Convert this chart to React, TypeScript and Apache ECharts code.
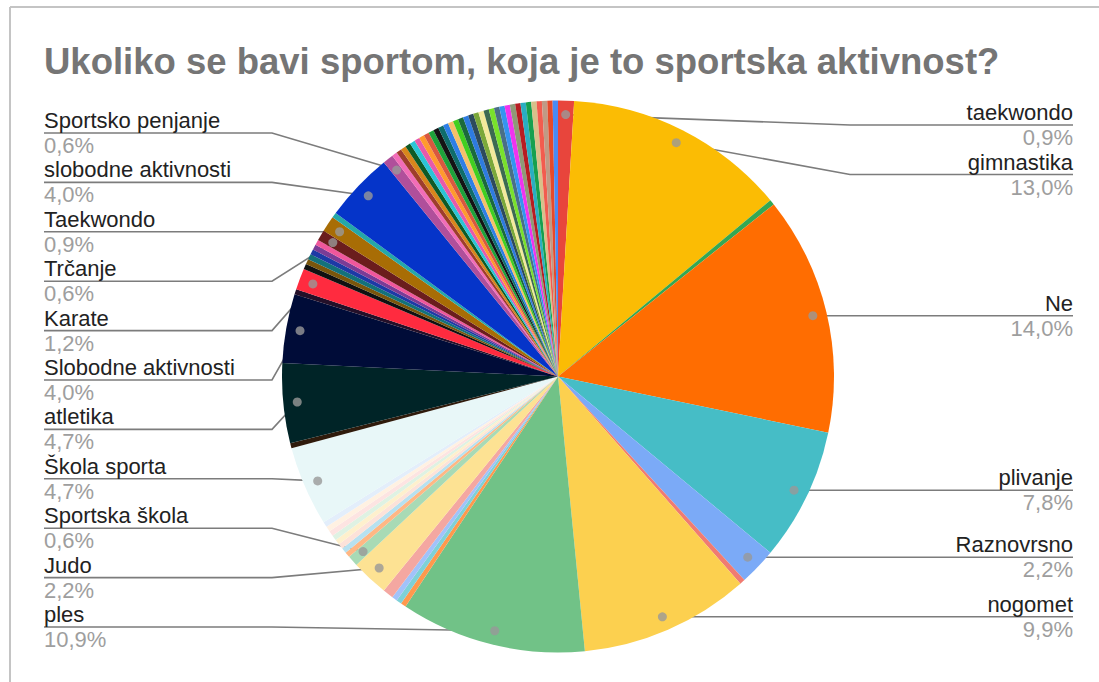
import React, { useEffect, useRef } from 'react';
import * as echarts from 'echarts';

const chartTitle = 'Ukoliko se bavi sportom, koja je to sportska aktivnost?';

// Slices in clockwise order from 12 o'clock. Empty name = unlabeled slice.
const sliceNames: string[] = [
  'taekwondo', 'gimnastika', '', 'Ne', 'plivanje', 'Raznovrsno', '', 'nogomet', 'ples',
  '', '', '', '', 'Judo', 'Sportska škola',
  '', '', '', '', '', '', '', '',
  'Škola sporta', '', 'atletika', 'Slobodne aktivnosti', '', 'Karate',
  '', '', '', '', '', '',
  'Trčanje', 'Taekwondo', '', 'slobodne aktivnosti', 'Sportsko penjanje',
  '', '', '', '', '', '', '', '', '', '', '',
  '', '', '', '', '', '', '', '', '', '', '',
  '', '', '', '', '', '', '', '', '', '', '',
];

const sliceCounts: number[] = [
  3, 42, 1, 45, 25, 7, 1, 32, 35,
  1, 1, 1, 2, 7, 2,
  1, 1, 1, 1, 1, 1, 1, 1,
  15, 1, 15, 13, 1, 4,
  1, 1, 1, 1, 1, 1,
  2, 3, 1, 13, 2,
  1, 1, 1, 1, 1, 1, 1, 1, 1, 1, 1,
  1, 1, 1, 1, 1, 1, 1, 1, 1, 1, 1,
  1, 1, 1, 1, 1, 1, 1, 1, 1, 1, 1,
];

const sliceColors: string[] = [
  '#e8453c', '#fbbc04', '#34a853', '#ff6d01', '#46bdc6', '#7baaf7', '#f07b72', '#fcd04f', '#71c287',
  '#ff994d', '#7ed1d7', '#a1c2fa', '#f4a7a1', '#fde293', '#a8dab5',
  '#ffb784', '#b7e1f0', '#fce2d9', '#fef0cd', '#dff2e3', '#fde4e2', '#fff1e2', '#e3eefb',
  '#e8f7f8', '#2f1b0c', '#002427', '#000c38', '#241029', '#ff2b3f',
  '#111111', '#7a560c', '#13727a', '#1d3aa6', '#7b3c96', '#f0579c',
  '#6b1d1d', '#a86d05', '#25a8a8', '#0534c9', '#b04f9b',
  '#f26db8', '#9e3d2c', '#d8861c', '#0e5a26', '#2cc4d6', '#e65aab', '#ff9a2e', '#d9583f', '#1ea23a', '#141414', '#0f6d6b',
  '#2f7fe6', '#f5c06b', '#41cf20', '#1b6a3b', '#2e7be0', '#2d4a5d', '#7ba83a', '#f3ea9c', '#3d6a52', '#79e12c', '#4a6f86',
  '#3694ef', '#f033ef', '#8e9a78', '#b71d22', '#2aaec2', '#17a04f', '#d8c08a', '#f25c4f', '#c09a85', '#e54a2b', '#4a8af4',
];

// layout constants
const CX = 558;
const CY = 376.5;
const R = 276;
const DOT_R = 262;
const RIGHT_X = 1073;
const LEFT_X = 44;
const RIGHT_BEND = 850;
const LEFT_BEND = 272;

const total = sliceCounts.reduce((a, b) => a + b, 0);
const midCounts: number[] = [];
{
  let c = 0;
  sliceCounts.forEach((v) => {
    midCounts.push(c + v / 2);
    c += v;
  });
}
const midAngleDeg = midCounts.map((m) => (m / total) * 360);

const pct = (v: number) => ((v / total) * 100).toFixed(1).replace('.', ',') + '%';

type LabelInfo = { side: 'left' | 'right'; lineY: number; dot: number[] };
const labelInfo: Record<number, LabelInfo> = {};
{
  const labeled = sliceNames.map((n, i) => i).filter((i) => sliceNames[i] !== '');
  const dotOf = (i: number) => {
    const a = (midAngleDeg[i] * Math.PI) / 180;
    return [CX + DOT_R * Math.sin(a), CY - DOT_R * Math.cos(a)];
  };
  const right = labeled.filter((i) => midAngleDeg[i] < 180).sort((a, b) => midAngleDeg[a] - midAngleDeg[b]);
  const left = labeled.filter((i) => midAngleDeg[i] >= 180).sort((a, b) => midAngleDeg[b] - midAngleDeg[a]);
  let prev = -Infinity;
  right.forEach((i) => {
    const d = dotOf(i);
    const y = Math.max(d[1], prev + 49.5, 125);
    labelInfo[i] = { side: 'right', lineY: y, dot: d };
    prev = y;
  });
  left.forEach((i, k) => {
    const d = dotOf(i);
    labelInfo[i] = { side: 'left', lineY: 133 + k * 49.4, dot: d };
  });
}

export default function App() {
  const ref = useRef<HTMLDivElement>(null);
  useEffect(() => {
    if (!ref.current) return;
    const chart = echarts.init(ref.current, undefined, { renderer: 'svg' });
    const labeledIdx = Object.keys(labelInfo).map(Number);
    chart.setOption({
      animation: false,
      backgroundColor: '#ffffff',
      title: {
        text: chartTitle,
        left: 44,
        top: 41,
        padding: 0,
        textStyle: {
          fontFamily: '"Liberation Sans", Arial, sans-serif',
          fontSize: 36.5,
          fontWeight: 'bold',
          color: '#757575',
          lineHeight: 40,
        },
      },
      graphic: [
        { type: 'line', shape: { x1: 10, y1: 7, x2: 1099, y2: 7 }, style: { stroke: '#c4c4c4', lineWidth: 2 }, silent: true },
        { type: 'line', shape: { x1: 10, y1: 7, x2: 10, y2: 682 }, style: { stroke: '#c4c4c4', lineWidth: 2 }, silent: true },
      ],
      polar: { center: [CX, CY], radius: R },
      angleAxis: { type: 'value', min: 0, max: total, startAngle: 90, clockwise: true, show: false },
      radiusAxis: { type: 'value', min: 0, max: R, show: false },
      series: [
        {
          type: 'pie',
          center: [CX, CY],
          radius: R,
          startAngle: 90,
          clockwise: true,
          avoidLabelOverlap: false,
          silent: true,
          emphasis: { disabled: true },
          itemStyle: { borderWidth: 0 },
          data: sliceCounts.map((v, i) => ({
            value: v,
            name: sliceNames[i],
            itemStyle: { color: sliceColors[i] },
            label: { show: sliceNames[i] !== '' },
            labelLine: { show: sliceNames[i] !== '' },
          })),
          label: {
            position: 'outside',
            formatter: (p: any) => `{n|${p.name}}\n{p|${pct(p.value)}}`,
            rich: {
              n: { fontFamily: '"Liberation Sans", Arial, sans-serif', fontSize: 22, color: '#222222', lineHeight: 25 },
              p: { fontFamily: '"Liberation Sans", Arial, sans-serif', fontSize: 22, color: '#9e9e9e', lineHeight: 25 },
            },
          },
          labelLine: { show: true, smooth: false, lineStyle: { color: '#7c7c7c', width: 1.6 } },
          labelLayout: (params: any) => {
            const info = labelInfo[params.dataIndex];
            if (!info) return {};
            if (info.side === 'right') {
              return {
                x: RIGHT_X,
                y: info.lineY,
                align: 'right',
                verticalAlign: 'middle',
                labelLinePoints: [info.dot, [RIGHT_BEND, info.lineY], [RIGHT_X, info.lineY]],
              };
            }
            return {
              x: LEFT_X,
              y: info.lineY,
              align: 'left',
              verticalAlign: 'middle',
              labelLinePoints: [info.dot, [LEFT_BEND, info.lineY], [LEFT_X, info.lineY]],
            };
          },
        },
        {
          type: 'scatter',
          coordinateSystem: 'polar',
          silent: true,
          z: 10,
          symbol: 'circle',
          symbolSize: 9,
          itemStyle: { color: '#999999' },
          data: labeledIdx.map((i) => [DOT_R, midCounts[i]]),
        },
      ],
    });
    return () => chart.dispose();
  }, []);
  return <div ref={ref} style={{ position: 'absolute', left: 0, top: 0, width: 1099, height: 682 }} />;
}
